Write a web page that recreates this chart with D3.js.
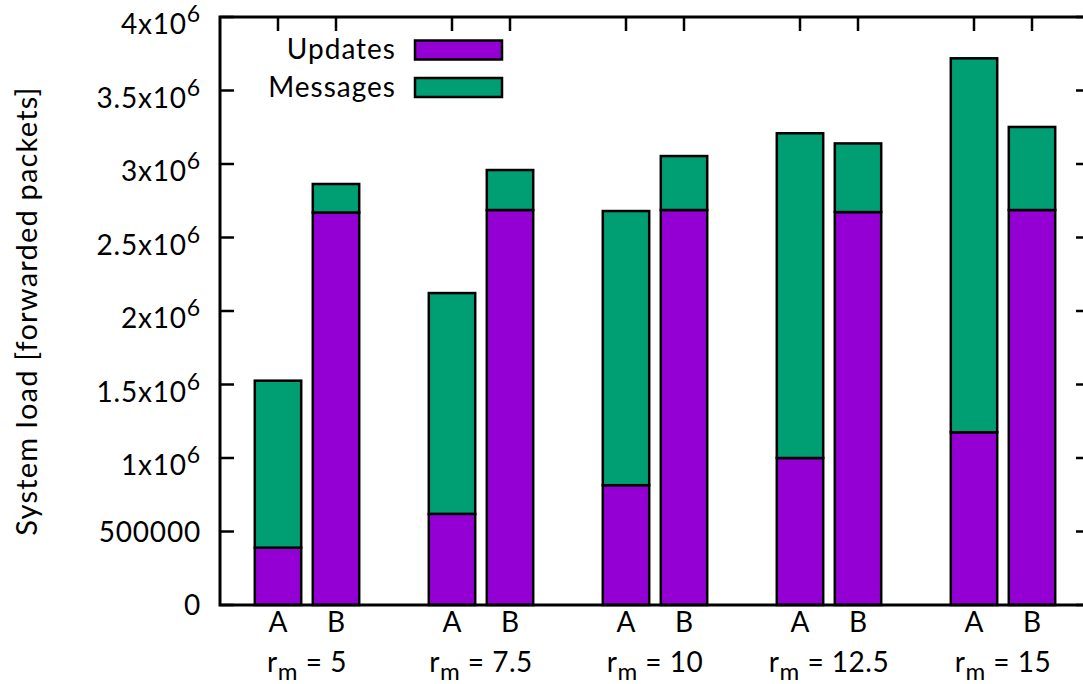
<!DOCTYPE html>
<html>
<head>
<meta charset="utf-8">
<script src="https://cdn.jsdelivr.net/npm/d3@7"></script>
<style>
  html, body { margin: 0; padding: 0; background: #fff; }
  svg { display: block; }
  text { font-family: Lato, "Noto Sans", sans-serif; fill: #000; }
</style>
</head>
<body>
<svg id="chart" width="1083" height="684"></svg>
<script>
// ---- data ----
const groups = ["5", "7.5", "10", "12.5", "15"];
const variants = ["A", "B"];
const seriesNames = ["Updates", "Messages"];
const updatesA  = [390000, 620000, 815000, 1000000, 1175000];
const messagesA = [1136000, 1502000, 1865000, 2209000, 2544000];
const updatesB  = [2670000, 2687000, 2687000, 2673000, 2687000];
const messagesB = [194000, 272000, 367000, 467000, 565000];
const yTicks = [0, 500000, 1000000, 1500000, 2000000, 2500000, 3000000, 3500000, 4000000];
const yTickLabels = ["0", "500000", ["1", "6"], ["1.5", "6"], ["2", "6"], ["2.5", "6"], ["3", "6"], ["3.5", "6"], ["4", "6"]];
const colors = ["#9400D3", "#009E73"];

// ---- layout ----
const svg = d3.select("#chart");
const L = 220, R = 1090, T = 17, B = 605;
const FS = 28;
const x = d3.scaleLinear().domain([-1, 14]).range([L, R]);
const y = d3.scaleLinear().domain([0, 4000000]).range([B, T]);
const barW = 0.8;

const bars = [];
groups.forEach((g, gi) => {
  variants.forEach((v, vi) => {
    const u = vi === 0 ? updatesA[gi] : updatesB[gi];
    const m = vi === 0 ? messagesA[gi] : messagesB[gi];
    bars.push({pos: gi * 3 + vi, g, v, vals: [u, m]});
  });
});

// ticks (drawn under bars)
const tickLen = 14;
const tk = svg.append("g").attr("stroke", "#000").attr("stroke-width", 2.5);
yTicks.forEach(t => {
  tk.append("line").attr("x1", L).attr("x2", L + tickLen).attr("y1", y(t)).attr("y2", y(t));
  tk.append("line").attr("x1", R).attr("x2", R - tickLen).attr("y1", y(t)).attr("y2", y(t));
});
bars.forEach(b => {
  tk.append("line").attr("x1", x(b.pos)).attr("x2", x(b.pos)).attr("y1", T).attr("y2", T + tickLen);
  tk.append("line").attr("x1", x(b.pos)).attr("x2", x(b.pos)).attr("y1", B).attr("y2", B - tickLen);
});

// bars
const bg = svg.append("g");
bars.forEach(b => {
  let base = 0;
  b.vals.forEach((val, si) => {
    bg.append("rect")
      .attr("x", x(b.pos - barW / 2))
      .attr("width", x(b.pos + barW / 2) - x(b.pos - barW / 2))
      .attr("y", y(base + val))
      .attr("height", y(base) - y(base + val))
      .attr("fill", colors[si])
      .attr("stroke", "#000")
      .attr("stroke-width", 2.5);
    base += val;
  });
});

// border
svg.append("rect").attr("x", L).attr("y", T).attr("width", R - L).attr("height", B - T)
  .attr("fill", "none").attr("stroke", "#000").attr("stroke-width", 3);

// y tick labels
yTicks.forEach((t, i) => {
  const lab = yTickLabels[i];
  if (Array.isArray(lab)) {
    const tx = svg.append("text").attr("x", 201).attr("y", y(t) + 17)
      .attr("text-anchor", "end").attr("font-size", FS).attr("letter-spacing", 0.8);
    tx.append("tspan").text(lab[0] + "x10");
    tx.append("tspan").attr("dy", -12).attr("font-size", 23).text(lab[1]);
  } else {
    svg.append("text").attr("x", 201).attr("y", y(t) + 10)
      .attr("text-anchor", "end").attr("font-size", FS).attr("letter-spacing", 0.8).text(lab);
  }
});

// x labels: variants
bars.forEach(b => {
  svg.append("text").attr("x", x(b.pos)).attr("y", 632)
    .attr("text-anchor", "middle").attr("font-size", FS).text(b.v);
});
// x labels: groups
groups.forEach((g, gi) => {
  const cx = (x(gi * 3) + x(gi * 3 + 1)) / 2;
  const t = svg.append("text").attr("x", cx).attr("y", 672)
    .attr("text-anchor", "middle").attr("font-size", FS).attr("letter-spacing", 0.5);
  t.append("tspan").text("r");
  t.append("tspan").attr("dy", 8).attr("font-size", 24).text("m");
  t.append("tspan").attr("dy", -8).text(" = " + g);
});

// y axis title
svg.append("text")
  .attr("transform", "translate(37,311) rotate(-90)")
  .attr("text-anchor", "middle").attr("font-size", 29).attr("letter-spacing", 1.2)
  .text("System load [forwarded packets]");

// legend
seriesNames.forEach((s, i) => {
  const cy = 50 + i * 37.5;
  svg.append("text").attr("x", 396).attr("y", cy + 9).attr("text-anchor", "end")
    .attr("font-size", FS).attr("letter-spacing", 1).text(s);
  svg.append("rect").attr("x", 415).attr("y", cy - 9.5).attr("width", 87).attr("height", 19)
    .attr("fill", colors[i]).attr("stroke", "#000").attr("stroke-width", 2.5);
});
</script>
</body>
</html>
